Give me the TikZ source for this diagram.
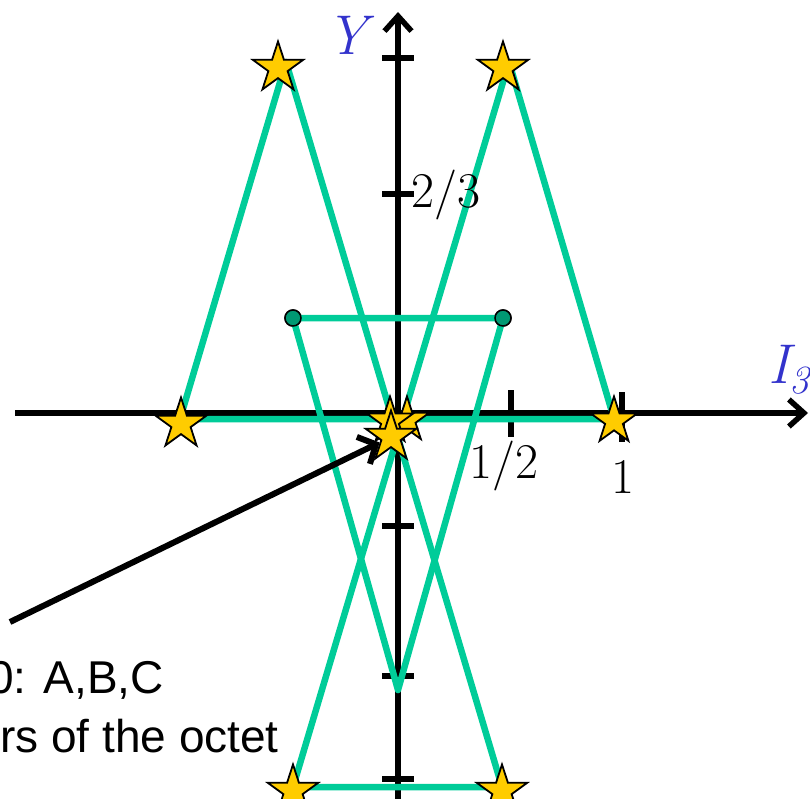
\documentclass[tikz,border=0pt]{standalone}
\usepackage{fontspec}
\newfontfamily\arialfont{Liberation Sans}
\usetikzlibrary{arrows.meta,shapes.geometric}
\definecolor{grn}{RGB}{0,204,153}
\definecolor{ylw}{RGB}{255,204,0}
\definecolor{lblue}{RGB}{51,51,204}
\tikzset{
  axisline/.style={line width=5.5pt,-{Straight Barb[length=15pt,width=27pt]}},
  tickmark/.style={line width=5.5pt},
  gline/.style={grn,line width=6.5pt,line cap=round,line join=round},
  starnode/.style={star,star points=5,star point ratio=2.618,minimum size=53pt,inner sep=0pt,fill=ylw,draw=black,line width=1.8pt},
  dotnode/.style={circle,minimum size=16pt,inner sep=0pt,fill=grn!75!black,draw=black,line width=1.5pt},
  numlabel/.style={inner sep=0pt,font=\fontsize{50}{56}\selectfont},
  axlabel/.style={inner sep=0pt,text=lblue,font=\fontsize{56}{62}\selectfont\itshape},
  sanslabel/.style={inner sep=0pt,font=\arialfont\fontsize{46}{52}\selectfont}
}
\begin{document}
\begin{tikzpicture}[x=1pt,y=-1pt]
\useasboundingbox (0,0) rectangle (810,799);
% axes
\coordinate (xs) at (15,413); \coordinate (xe) at (808,413);
\coordinate (ys) at (398,805); \coordinate (ye) at (398,12);
\draw[axisline] (xs) -- (xe);
\draw[axisline] (ys) -- (ye);
% ticks on Y
\foreach \yy/\nm in {58/a,194/b,318/c,526/d,676/e,779/f}{
  \coordinate (tl\nm) at (382,\yy); \coordinate (tr\nm) at (414,\yy);
  \draw[tickmark] (tl\nm) -- (tr\nm);
}
% ticks on I3
\coordinate (h1t) at (511,390); \coordinate (h1b) at (511,437);
\coordinate (o1t) at (622,392); \coordinate (o1b) at (622,442);
\draw[tickmark] (h1t) -- (h1b);
\draw[tickmark] (o1t) -- (o1b);
% green lines
\coordinate (TLa) at (286,62);
\coordinate (TRa) at (509,62);
\coordinate (La) at (180,419);
\coordinate (Ra) at (614,419);
\coordinate (BLa) at (293,787);
\coordinate (BRa) at (502,787);
\coordinate (Va) at (398,690);
\node[dotnode] (c1) at (293,318) {};
\node[dotnode] (c2) at (503,318) {};
\draw[gline] (La) -- (TLa) -- (BRa) -- (BLa) -- (TRa) -- (Ra) -- cycle;
\draw[gline] (c1.center) -- (c2.center) -- (Va) -- cycle;
\node[dotnode] at (c1) {};
\node[dotnode] at (c2) {};
% stars
\node[starnode] (s1) at (278,68) {};
\node[starnode] (s2) at (503,68) {};
\node[starnode] (s3) at (181,424) {};
\node[starnode,minimum size=49pt] (s4) at (614,421) {};
\node[starnode,minimum size=47pt] (s5) at (407,420) {};
\node[starnode,minimum size=49pt] (s6) at (390,421) {};
\node[starnode] (s7) at (391,437) {};
\node[starnode] (s8) at (293,791) {};
\node[starnode] (s9) at (502,791) {};
% labels
\node[numlabel,anchor=base west] (l23) at (411,208) {2/3};
\node[numlabel,anchor=base west] (l12) at (469,478) {1/2};
\node[numlabel,anchor=base] (l1) at (623,493) {1};
\node[axlabel,anchor=base] (ly) at (347,55) {Y};
\node[axlabel,anchor=base west] (li) at (768,383) {I\raisebox{-10pt}{\fontsize{40}{40}\selectfont 3}};
% annotation
\node[sanslabel,anchor=base east] (t1) at (164,693) {0: A,B,C};
\node[sanslabel,anchor=base east] (t2) at (279,752) {rs of the octet};
\coordinate (ast) at (10,622);
\draw[line width=6pt,-{Straight Barb[length=14pt,width=30pt]}] (ast) -- (s7);
\end{tikzpicture}
\end{document}
